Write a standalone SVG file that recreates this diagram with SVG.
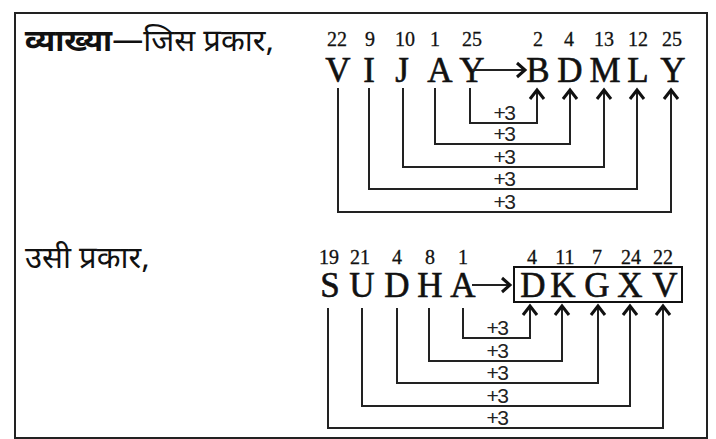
<svg xmlns="http://www.w3.org/2000/svg" width="716" height="439" viewBox="0 0 716 439">
<style>
.hi{font-family:"Noto Sans Devanagari","Noto Sans","Noto Sans CJK SC",sans-serif;font-size:31px;fill:#111}
.b{font-weight:bold}
.let{font-family:"Liberation Serif",serif;font-size:35px;fill:#111;stroke:#111;stroke-width:0.6;text-anchor:middle}
.num{font-family:"Liberation Serif",serif;font-size:20px;fill:#111;stroke:#111;stroke-width:0.3;text-anchor:middle}
.p3{font-family:"Liberation Sans",sans-serif;font-size:21px;fill:#222;text-anchor:middle;letter-spacing:-1.5px}
.ln{fill:none;stroke:#222;stroke-width:2}
.ah{fill:none;stroke:#111;stroke-width:3;stroke-linejoin:miter}
</style>
<rect x="15" y="13" width="692" height="425" fill="#fff" stroke="#222" stroke-width="2"/>
<g id="title1"><text class="hi" x="25" y="51"><tspan class="b">व्याख्या</tspan>—जिस प्रकार,</text></g>
<g id="title2"><text class="hi" x="25" y="268">उसी प्रकार,</text></g>
<g id="vijay">
<text class="num" x="337" y="46">22</text><text class="let" x="338" y="82">V</text>
<text class="num" x="370" y="46">9</text><text class="let" x="369" y="82">I</text>
<text class="num" x="405" y="46">10</text><text class="let" x="402" y="82">J</text>
<text class="num" x="435" y="46">1</text><text class="let" x="440" y="82">A</text>
<text class="num" x="472" y="46">25</text><text class="let" x="472" y="82">Y</text>
</g>
<g id="bdmly">
<text class="num" x="538" y="46">2</text><text class="let" x="538" y="82">B</text>
<text class="num" x="569" y="46">4</text><text class="let" x="570" y="82">D</text>
<text class="num" x="604" y="46">13</text><text class="let" x="605" y="82">M</text>
<text class="num" x="638" y="46">12</text><text class="let" x="638" y="82">L</text>
<text class="num" x="672" y="46">25</text><text class="let" x="673" y="82">Y</text>
</g>
<g id="sudha">
<text class="num" x="329" y="264">19</text><text class="let" x="330" y="297">S</text>
<text class="num" x="360" y="264">21</text><text class="let" x="362" y="297">U</text>
<text class="num" x="397" y="264">4</text><text class="let" x="397" y="297">D</text>
<text class="num" x="430" y="264">8</text><text class="let" x="430" y="297">H</text>
<text class="num" x="463" y="264">1</text><text class="let" x="463" y="297">A</text>
</g>
<g id="dkgxv">
<rect x="514" y="267" width="168" height="35" fill="none" stroke="#111" stroke-width="2"/>
<text class="num" x="532" y="264">4</text><text class="let" x="533" y="297">D</text>
<text class="num" x="565" y="264">11</text><text class="let" x="563" y="297">K</text>
<text class="num" x="597" y="264">7</text><text class="let" x="597" y="297">G</text>
<text class="num" x="631" y="264">24</text><text class="let" x="630" y="297">X</text>
<text class="num" x="663" y="264">22</text><text class="let" x="665" y="297">V</text>
</g>
<g id="connectors">
<path class="ln" d="M482 70H524"/><path class="ah" d="M517 63L525 70L517 77"/>
<path class="ln" d="M472 70H510"/>
<path class="ln" d="M470 88V123H537V91"/>
<path class="ln" d="M435 88V144H570V91"/>
<path class="ln" d="M403 88V167H604V91"/>
<path class="ln" d="M369 88V189H637V91"/>
<path class="ln" d="M338 88V212H671V91"/>
<path class="ah" d="M530 99L537 90L544 99M563 99L570 90L577 99M597 99L604 90L611 99M630 99L637 90L644 99M664 99L671 90L678 99"/>
<text class="p3" x="504" y="120">+3</text>
<text class="p3" x="504" y="141">+3</text>
<text class="p3" x="504" y="164">+3</text>
<text class="p3" x="504" y="186">+3</text>
<text class="p3" x="504" y="209">+3</text>
<path class="ln" d="M472 285H509"/><path class="ah" d="M502 278L510 285L502 292"/>
<path class="ln" d="M463 308V338H530V307"/>
<path class="ln" d="M429 308V361H562V307"/>
<path class="ln" d="M397 308V383H598V307"/>
<path class="ln" d="M362 308V406H630V307"/>
<path class="ln" d="M328 308V428H663V307"/>
<path class="ah" d="M523 315L530 306L537 315M555 315L562 306L569 315M591 315L598 306L605 315M623 315L630 306L637 315M656 315L663 306L670 315"/>
<text class="p3" x="497" y="335">+3</text>
<text class="p3" x="497" y="358">+3</text>
<text class="p3" x="497" y="380">+3</text>
<text class="p3" x="497" y="403">+3</text>
<text class="p3" x="497" y="425">+3</text>
</g>
</svg>
